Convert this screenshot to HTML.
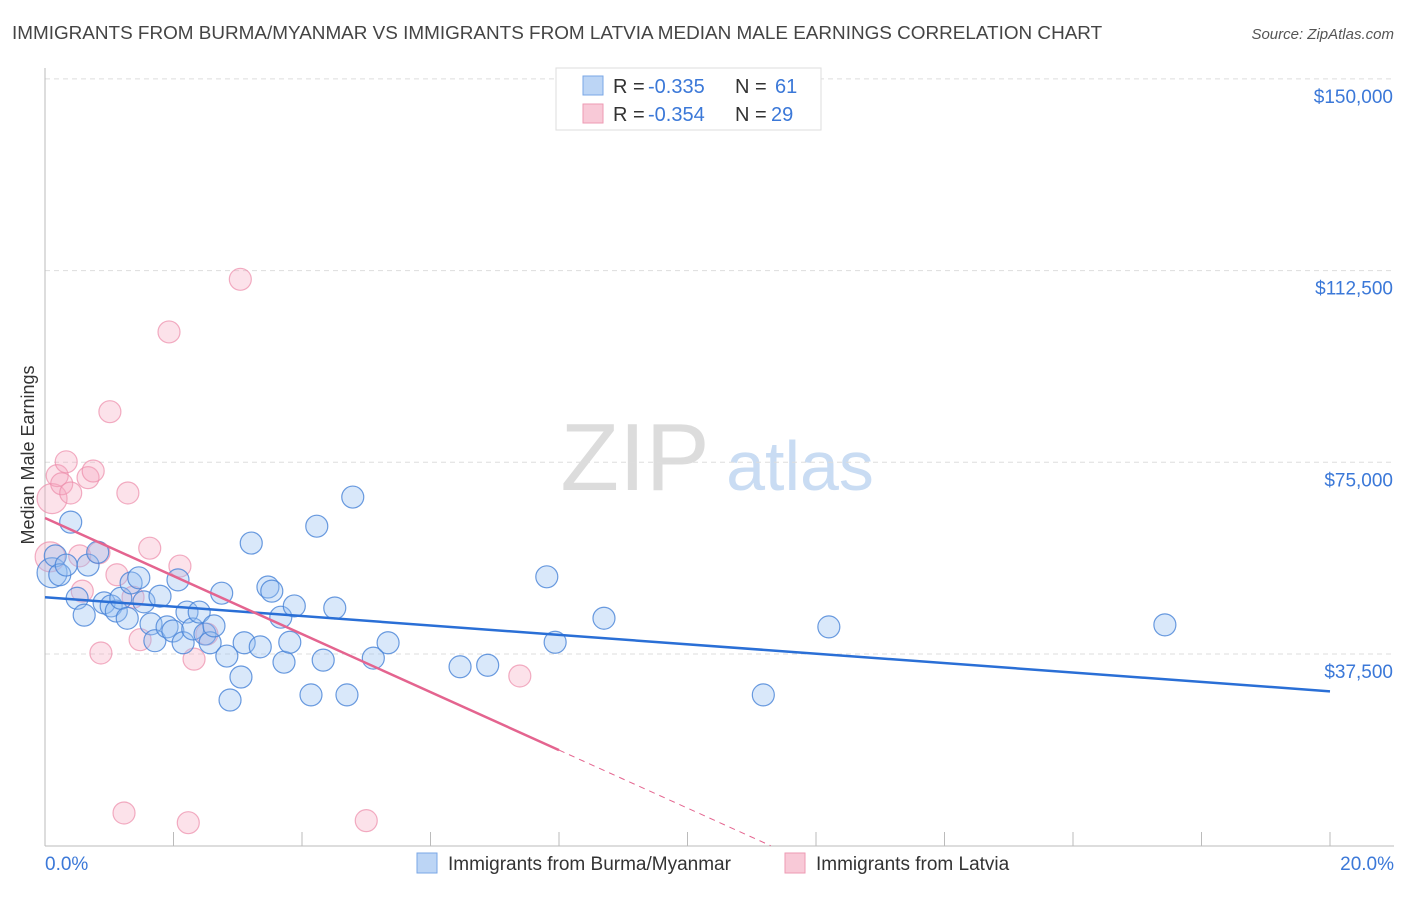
<!DOCTYPE html>
<html><head><meta charset="utf-8"><style>
body{margin:0;background:#fff;font-family:"Liberation Sans",sans-serif;}
svg text{font-family:"Liberation Sans",sans-serif;}
</style></head><body>
<svg id="chart" width="1406" height="892">
<text x="12" y="39" font-size="18.9" fill="#444">IMMIGRANTS FROM BURMA/MYANMAR VS IMMIGRANTS FROM LATVIA MEDIAN MALE EARNINGS CORRELATION CHART</text>
<text x="1394" y="39" font-size="15" fill="#555" font-style="italic" text-anchor="end">Source: ZipAtlas.com</text>
<text x="635" y="490" font-size="96" fill="#dcdcdc" font-family="Liberation Serif,serif" text-anchor="middle">ZIP</text>
<text x="800" y="490" font-size="70" fill="#c9dcf3" text-anchor="middle">atlas</text>
<text transform="translate(34,455) rotate(-90)" font-size="18" fill="#333" text-anchor="middle">Median Male Earnings</text>
<g id="grid"></g><g id="ticks"></g><g id="pts"></g><g id="lines"></g>
<g>
<rect x="556" y="68" width="265" height="62" fill="#fff" stroke="#ddd"/>
<rect x="583" y="76" width="20" height="19" fill="#bcd5f5" stroke="#7aa7e6"/>
<text y="93" font-size="20" fill="#333"><tspan x="613">R =</tspan><tspan x="648" fill="#3b78d8">-0.335</tspan><tspan x="735">N =</tspan><tspan x="775" fill="#3b78d8">61</tspan></text>
<rect x="583" y="104" width="20" height="19" fill="#f8c9d7" stroke="#ee9ab3"/>
<text y="121" font-size="20" fill="#333"><tspan x="613">R =</tspan><tspan x="648" fill="#3b78d8">-0.354</tspan><tspan x="735">N =</tspan><tspan x="771" fill="#3b78d8">29</tspan></text>
</g>
<text x="45" y="870" font-size="19" fill="#3b78d8">0.0%</text>
<text x="1394" y="870" font-size="19" fill="#3b78d8" text-anchor="end">20.0%</text>
<rect x="417" y="853" width="20" height="20" fill="#bcd5f5" stroke="#7aa7e6"/>
<text x="448" y="870" font-size="19" fill="#333">Immigrants from Burma/Myanmar</text>
<rect x="785" y="853" width="20" height="20" fill="#f8c9d7" stroke="#ee9ab3"/>
<text x="816" y="870" font-size="19" fill="#333">Immigrants from Latvia</text>
</svg>
<script>
const yTicks=[37500,75000,112500,150000];
const yTickLabels=["$37,500","$75,000","$112,500","$150,000"];
const xTicks=[0,2,4,6,8,10,12,14,16,18,20];
const burmaX=[0.11,0.16,0.23,0.33,0.40,0.50,0.61,0.67,0.82,0.92,1.03,1.11,1.18,1.28,1.34,1.46,1.54,1.65,1.71,1.79,1.90,1.99,2.07,2.15,2.21,2.30,2.40,2.49,2.57,2.63,2.75,2.83,2.88,3.05,3.10,3.21,3.35,3.47,3.53,3.67,3.72,3.81,3.88,4.14,4.23,4.33,4.51,4.70,4.79,5.11,5.34,6.46,6.89,7.81,7.94,8.70,11.18,12.20,17.43];
const burmaY=[53400,56700,53000,54900,63300,48400,45100,54900,57400,47500,46900,45900,48400,44500,51400,52400,47700,43400,40100,48800,42800,42000,52000,39700,45700,42400,45700,41400,39700,43000,49400,37100,28500,33000,39700,59200,38900,50600,49800,44700,35900,39800,46900,29500,62500,36300,46500,29500,68200,36700,39700,35000,35300,52600,39800,44500,29500,42800,43200];
const latviaX=[0.08,0.11,0.19,0.26,0.33,0.40,0.54,0.58,0.67,0.75,0.84,0.87,1.01,1.12,1.23,1.29,1.37,1.48,1.63,1.93,2.10,2.23,2.32,2.52,3.04,5.00,7.39];
const latviaY=[56500,67900,72400,70800,75100,69000,56700,49800,72000,73300,57300,37700,84900,53000,6400,69000,48600,40300,58200,100500,54700,4500,36500,41400,110800,4900,33200];
const burmaTrend=[48600,30200];
const latviaTrend=[64100,18700,8];
const X=v=>45+v*64.25, Y=v=>845.7-v/37500*191.7;
const NS="http://www.w3.org/2000/svg";
function mk(tag,at,parent){const e=document.createElementNS(NS,tag);for(const k in at)e.setAttribute(k,at[k]);document.getElementById(parent).appendChild(e);return e;}
yTicks.forEach((t,i)=>{
 const g=mk('line',{x1:45,x2:1394,y1:Y(t),y2:Y(t),stroke:'#ddd','stroke-dasharray':'5,4'},'grid');
 
 
 const l=mk('text',{x:1393,y:Y(t)+24,'font-size':19,fill:'#3b78d8','text-anchor':'end'},'ticks');
 l.textContent=yTickLabels[i];
 
 
});
const ax=mk('line',{x1:45,x2:45,y1:68,y2:846,stroke:'#bbb'},'grid');


const bx=mk('line',{x1:45,x2:1394,y1:846,y2:846,stroke:'#bbb'},'grid');


xTicks.forEach(t=>{
 const e=mk('line',{x1:X(t),x2:X(t),y1:832,y2:846,stroke:'#bbb'},'ticks');
 
 
});
function dots(xs,ys,fill,stroke,name){
 xs.forEach((x,i)=>{
  const c=mk('circle',{cx:X(x),cy:Y(ys[i]),r:(x<0.12?15:11),fill:fill,stroke:stroke,'stroke-width':1.2},'pts');
  
  
 });
}
dots(latviaX,latviaY,'rgba(245,165,190,0.32)','rgba(236,140,170,0.7)','latvia-point');
dots(burmaX,burmaY,'rgba(150,190,240,0.36)','rgba(70,130,215,0.8)','burma-point');
const bl=mk('line',{x1:X(0),y1:Y(burmaTrend[0]),x2:X(20),y2:Y(burmaTrend[1]),stroke:'#2a6fd6','stroke-width':2.5},'lines');


const slope=(latviaTrend[1]-latviaTrend[0])/latviaTrend[2];
const zeroX=-latviaTrend[0]/slope;
const pl=mk('line',{x1:X(0),y1:Y(latviaTrend[0]),x2:X(latviaTrend[2]),y2:Y(latviaTrend[1]),stroke:'#e4648f','stroke-width':2.5},'lines');


const pd=mk('line',{x1:X(latviaTrend[2]),y1:Y(latviaTrend[1]),x2:X(zeroX),y2:Y(0),stroke:'#e4648f','stroke-width':1,'stroke-dasharray':'6,5'},'lines');


</script>
</body></html>
